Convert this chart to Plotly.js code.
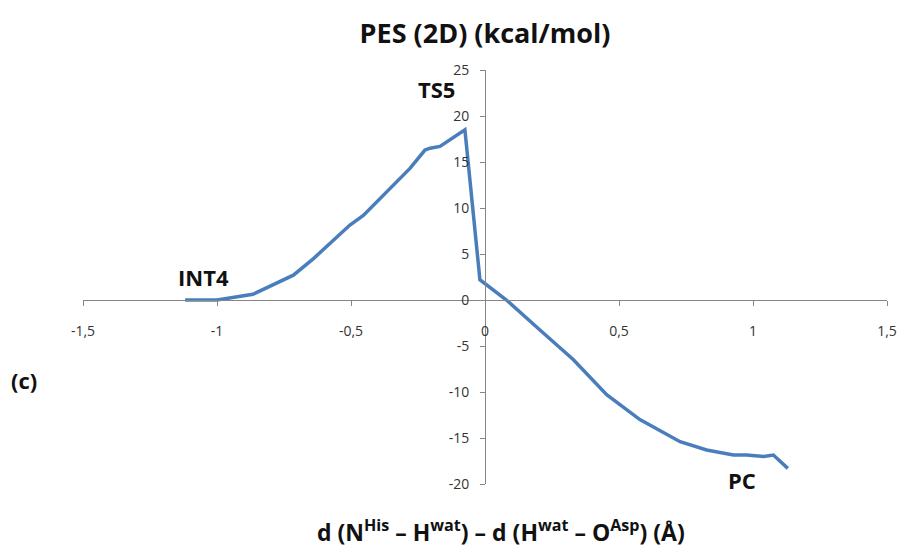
<!DOCTYPE html>
<html><head><meta charset="utf-8">
<script src="https://cdn.plot.ly/plotly-3.0.1.min.js"></script>
<style>html,body{margin:0;padding:0;background:#fff}#chart{width:903px;height:557px}</style>
</head><body><div id="chart"></div>
<script>
// Reaction coordinate (Å) and energy (kcal/mol)
var coord = [-1.119, -1.0, -0.866, -0.765, -0.715, -0.64, -0.566, -0.504, -0.454, -0.342, -0.28, -0.224, -0.205, -0.168, -0.075, -0.019, 0.08, 0.205, 0.33, 0.454, 0.578, 0.728, 0.827, 0.927, 0.976, 1.04, 1.076, 1.13];
var energy = [0.0, 0.0, 0.62, 2.0, 2.7, 4.5, 6.5, 8.15, 9.2, 12.5, 14.3, 16.3, 16.5, 16.7, 18.5, 2.2, 0.0, -3.26, -6.5, -10.3, -13.0, -15.4, -16.3, -16.85, -16.85, -17.0, -16.85, -18.3];

var xTickVals = [-1.5, -1, -0.5, 0, 0.5, 1, 1.5];
var xTickText = ["-1,5", "-1", "-0,5", "0", "0,5", "1", "1,5"];
var yTickVals = [-20, -15, -10, -5, 0, 5, 10, 15, 20, 25];
var yTickText = ["-20", "-15", "-10", "-5", "0", "5", "10", "15", "20", "25"];

var labelNames = ["TS5", "INT4", "PC"];
var labelX = [-0.18, -1.05, 0.96];
var labelY = [22.9, 2.5, -19.6];

var xRange = [-1.5, 1.5];
var yRange = [-20, 25];

var fontFam = "Open Sans, Liberation Sans, sans-serif";

var trace = {
  x: coord, y: energy, type: "scatter", mode: "lines",
  line: {color: "#4a7ebb", width: 3.5},
  hoverinfo: "skip", showlegend: false, cliponaxis: false
};

var annotations = labelNames.map(function(t, i){
  return {x: labelX[i], y: labelY[i], xref: "x", yref: "y", text: "<b>" + t + "</b>",
    xanchor: "center", yanchor: "middle",
    showarrow: false, font: {family: fontFam, size: 22, color: "#111"}};
});
annotations.push({xref: "paper", yref: "paper", x: 0.52, y: -0.113, xanchor: "center", yanchor: "middle",
  text: "<b>d (N<sup>His</sup> – H<sup>wat</sup>) – d (H<sup>wat</sup> – O<sup>Asp</sup>) (Å)</b>",
  showarrow: false, font: {family: fontFam, size: 23, color: "#111"}});
annotations.push({xref: "paper", yref: "paper", x: -0.0734, y: 0.251, xanchor: "center", yanchor: "middle",
  text: "<b>(c)</b>", showarrow: false, font: {family: fontFam, size: 22, color: "#111"}});

var layout = {
  width: 903, height: 557,
  margin: {l: 83, r: 16, t: 70, b: 73},
  paper_bgcolor: "#fff", plot_bgcolor: "#fff",
  title: {text: "<b>PES (2D) (kcal/mol)</b>", x: 0.5, xref: "paper", xanchor: "center", y: 1 - 34/557, yref: "container",
    yanchor: "middle", font: {family: fontFam, size: 27, color: "#111"}},
  xaxis: {
    range: xRange, tickvals: xTickVals, ticktext: xTickText,
    anchor: "free", position: (0 - yRange[0]) / (yRange[1] - yRange[0]),
    showgrid: false, zeroline: false, showline: true, linecolor: "#868686", linewidth: 1,
    ticks: "outside", ticklen: 5, tickcolor: "#868686", ticklabelstandoff: 13,
    tickfont: {family: fontFam, size: 14, color: "#333"}
  },
  yaxis: {
    range: yRange, tickvals: yTickVals, ticktext: yTickText,
    anchor: "free", position: (0 - xRange[0]) / (xRange[1] - xRange[0]),
    showgrid: false, zeroline: false, showline: true, linecolor: "#868686", linewidth: 1,
    ticks: "outside", ticklen: 5, tickcolor: "#868686", ticklabelstandoff: 8,
    tickfont: {family: fontFam, size: 14, color: "#333"}
  },
  annotations: annotations
};

Plotly.newPlot("chart", [trace], layout, {displayModeBar: false, staticPlot: true});
</script></body></html>
